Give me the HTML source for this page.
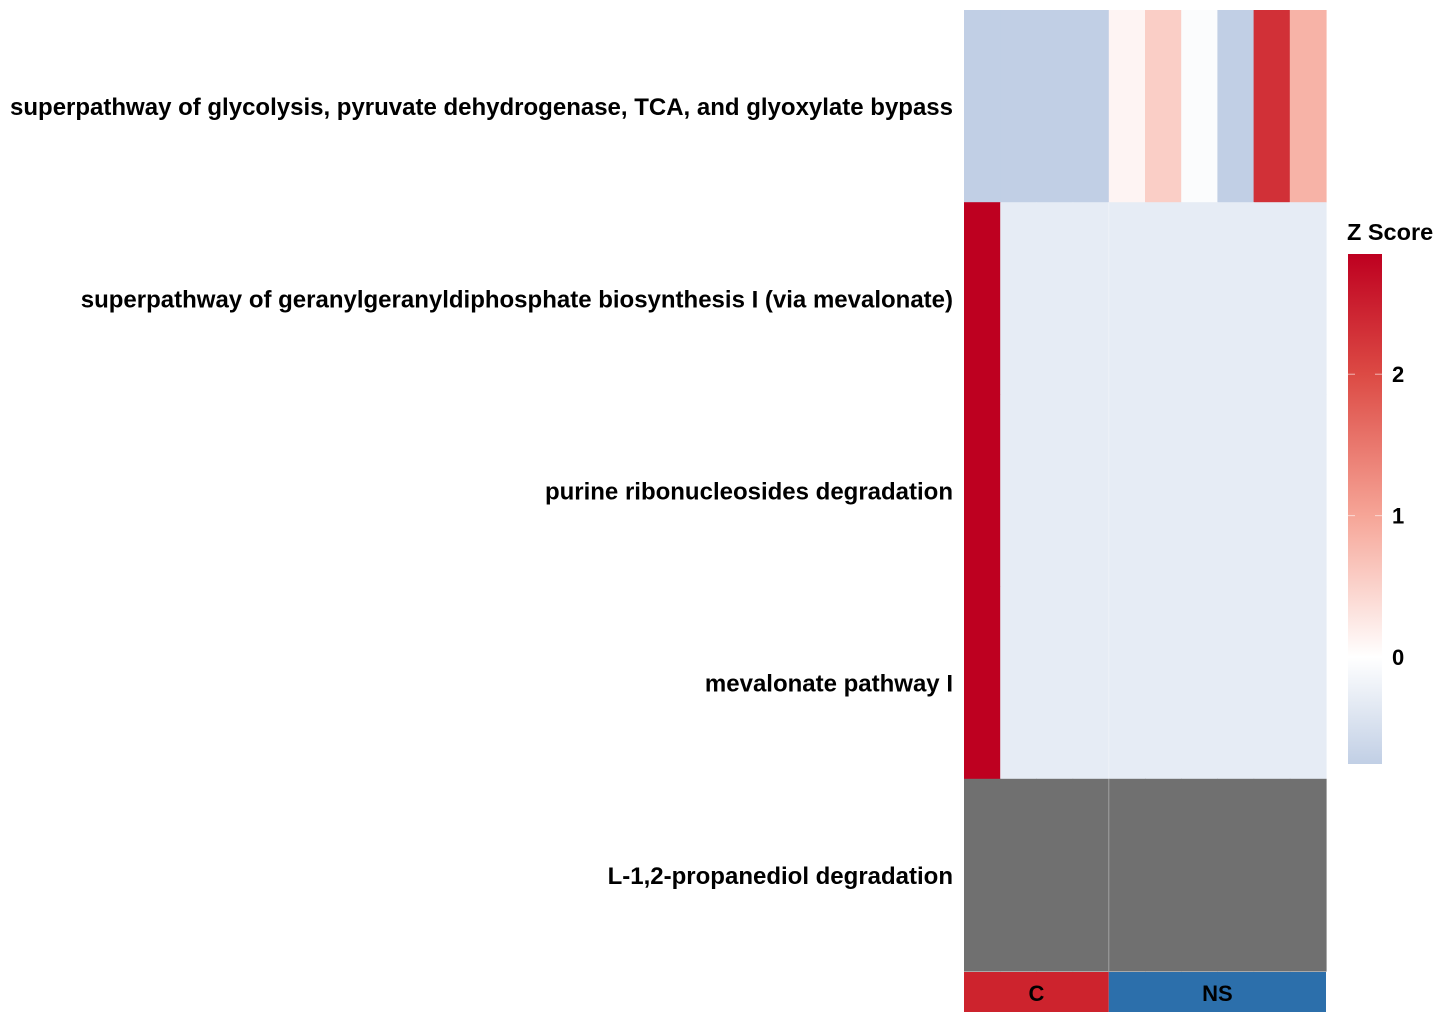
<!DOCTYPE html>
<html><head><meta charset="utf-8"><style>
html,body{margin:0;padding:0;background:#fff;}
body{width:1447px;height:1029px;overflow:hidden;font-family:"Liberation Sans",Arial,sans-serif;}
</style></head><body>
<svg id="chart" width="1447" height="1029" xmlns="http://www.w3.org/2000/svg">
<defs>
<linearGradient id="cbar" x1="0" y1="1" x2="0" y2="0">
<stop offset="0" stop-color="#C1CFE5"/>
<stop offset="0.2095" stop-color="#FFFFFF"/>
<stop offset="0.4868" stop-color="#F6A597"/>
<stop offset="0.764" stop-color="#DC4A44"/>
<stop offset="1" stop-color="#BE0020"/>
</linearGradient>
</defs>
<g id="heat"></g>
<g id="rowlabels"></g>
<g id="annot"></g>
<g>
<text x="1347" y="240" font-size="23.5" font-weight="bold" fill="#000">Z Score</text>
<rect x="1348" y="254" width="34" height="510" fill="url(#cbar)"/>
<g id="legticks"></g>
</g>
</svg>
<script>
const rowNames = ["superpathway of glycolysis, pyruvate dehydrogenase, TCA, and glyoxylate bypass","superpathway of geranylgeranyldiphosphate biosynthesis I (via mevalonate)","purine ribonucleosides degradation","mevalonate pathway I","L-1,2-propanediol degradation"];
const colGroups = ["C","C","C","C","NS","NS","NS","NS","NS","NS"];
const row1 = [-0.75,-0.75,-0.75,-0.75,0.12,0.55,-0.05,-0.75,2.3,0.85];
const row2 = [2.85,-0.3,-0.3,-0.3,-0.3,-0.3,-0.3,-0.3,-0.3,-0.3];
const row3 = [2.85,-0.3,-0.3,-0.3,-0.3,-0.3,-0.3,-0.3,-0.3,-0.3];
const row4 = [2.85,-0.3,-0.3,-0.3,-0.3,-0.3,-0.3,-0.3,-0.3,-0.3];
const row5 = [null,null,null,null,null,null,null,null,null,null];
const legendTicks = [0,1,2];
const zMin = -0.756, zMax = 2.85;
const groupColors = {C:"#CD232D", NS:"#2C6FAB"};

const values=[row1,row2,row3,row4,row5];
const X0=964,X1=1326,Y0=10,Y1=971;
const cw=(X1-X0)/colGroups.length, rh=(Y1-Y0)/rowNames.length;
const xOf=i=>X0+i*cw, yOf=r=>Y0+r*rh;
const stops=[[zMin,[193,207,229]],[0,[255,255,255]],[1,[246,165,151]],[2,[220,74,68]],[zMax,[190,0,32]]];
function color(v){
  if(v===null) return "#707070";
  v=Math.max(zMin,Math.min(zMax,v));
  for(let i=0;i<stops.length-1;i++){const[a,ca]=stops[i],[b,cb]=stops[i+1];
    if(v<=b){const t=(v-a)/(b-a);return "rgb("+ca.map((c,k)=>Math.round(c+(cb[k]-c)*t)).join(",")+")";}}
  return "rgb(190,0,32)";
}
const NS="http://www.w3.org/2000/svg";
const heat=document.getElementById('heat');
values.forEach((row,r)=>row.forEach((v,c)=>{
  const el=document.createElementNS(NS,'rect');
  el.setAttribute('x',xOf(c));el.setAttribute('y',yOf(r));
  el.setAttribute('width',cw+0.6);el.setAttribute('height',rh+0.6);
  el.setAttribute('fill',color(v));
  
  
  heat.appendChild(el);
}));
const split=colGroups.indexOf("NS");
const ln=document.createElementNS(NS,'line');
ln.setAttribute('x1',xOf(split));ln.setAttribute('x2',xOf(split));ln.setAttribute('y1',yOf(1));ln.setAttribute('y2',Y1);
ln.setAttribute('stroke','rgba(255,255,255,0.35)');ln.setAttribute('stroke-width','1');


heat.appendChild(ln);
const rl=document.getElementById('rowlabels');
rowNames.forEach((n,r)=>{
  const t=document.createElementNS(NS,'text');
  t.setAttribute('x',953);t.setAttribute('y',yOf(r)+rh/2+9);
  t.setAttribute('text-anchor','end');t.setAttribute('font-size','24');t.setAttribute('font-weight','bold');
  t.textContent=n;
  
  
  rl.appendChild(t);
});
const an=document.getElementById('annot');
const groups=[...new Set(colGroups)];
groups.forEach(g=>{
  const s=colGroups.indexOf(g), e=colGroups.lastIndexOf(g)+1;
  const r=document.createElementNS(NS,'rect');
  r.setAttribute('x',xOf(s));r.setAttribute('y',Y1+1);r.setAttribute('width',xOf(e)-xOf(s));r.setAttribute('height',40);
  r.setAttribute('fill',groupColors[g]);
  
  
  an.appendChild(r);
  const t=document.createElementNS(NS,'text');
  t.setAttribute('x',(xOf(s)+xOf(e))/2);t.setAttribute('y',Y1+30);t.setAttribute('text-anchor','middle');
  t.setAttribute('font-size','22');t.setAttribute('font-weight','bold');t.textContent=g;
  
  
  an.appendChild(t);
});
const lt=document.getElementById('legticks');
const ly=v=>764-(v-zMin)/(zMax-zMin)*510;
legendTicks.forEach(v=>{
  [[1348,1355],[1375,1382]].forEach(([a,b])=>{
    const l=document.createElementNS(NS,'line');
    l.setAttribute('x1',a);l.setAttribute('x2',b);l.setAttribute('y1',ly(v));l.setAttribute('y2',ly(v));
    l.setAttribute('stroke','rgba(255,255,255,0.6)');
    
    
    lt.appendChild(l);
  });
  const t=document.createElementNS(NS,'text');
  t.setAttribute('x',1392);t.setAttribute('y',ly(v)+8);t.setAttribute('font-size','22');t.setAttribute('font-weight','bold');
  t.textContent=v;
  
  
  lt.appendChild(t);
});
</script>
</body></html>
